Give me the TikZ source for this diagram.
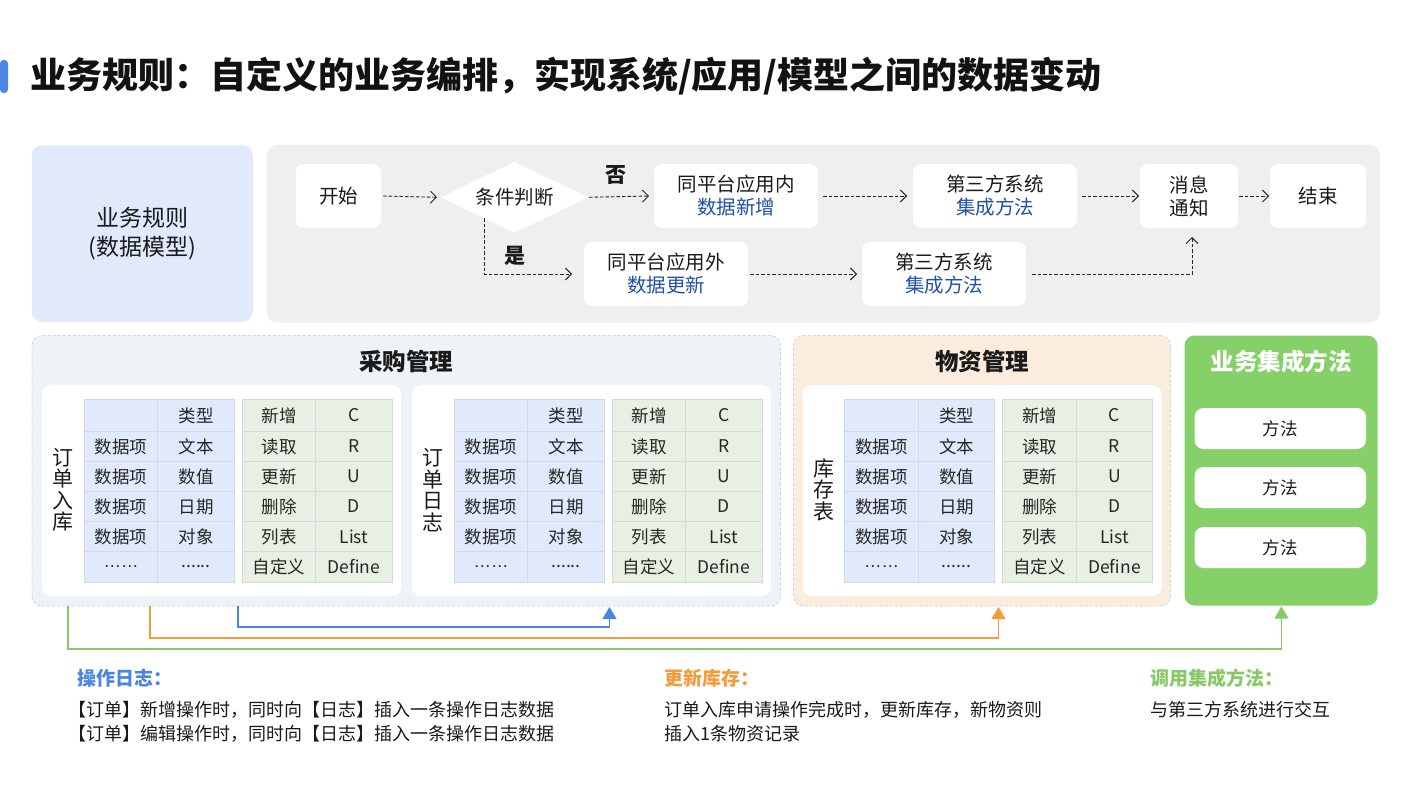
\documentclass[tikz,border=0pt]{standalone}
\usepackage{fontspec}
\setmainfont{Noto Sans CJK SC}
\newfontfamily\latf{Liberation Sans}
\usetikzlibrary{shapes.geometric,arrows.meta,calc}
\definecolor{titlebar}{HTML}{4D87E8}
\definecolor{lblue}{HTML}{E1EAFD}
\definecolor{panelgray}{HTML}{EFEFEF}
\definecolor{purfill}{HTML}{EDF3F7}
\definecolor{matfill}{HTML}{FBEDDE}
\definecolor{dashb}{HTML}{D0D5DA}
\definecolor{gpanelc}{HTML}{86D06A}
\definecolor{cellb}{HTML}{D6D9DC}
\definecolor{bcellf}{HTML}{E1EAFC}
\definecolor{gcellf}{HTML}{E7F0E2}
\definecolor{dblue}{HTML}{1F51A9}
\definecolor{cblue}{HTML}{4A84E4}
\definecolor{corange}{HTML}{F29D3C}
\definecolor{cgreen}{HTML}{86C966}
\definecolor{txt}{HTML}{1A1A1A}
\newcommand\dotsl{{\latf ……}}
\newcommand\dotsr{......}
\newcommand\crudtables[3]{% #1 x offset, #2 name prefix, #3 vertical label
  \node[whitebox, minimum width=359pt, minimum height=211pt] (#2box) at (#1+221.5,490.5) {};
  \node[vlabel] (#2lbl) at (#1+63,490) {#3};
  \foreach \k/\yc/\hh/\ta/\tb/\tc/\td in {
    1/415.5/32/{}/类型/新增/C,
    2/446.5/30/数据项/文本/读取/R,
    3/476.5/30/数据项/数值/更新/U,
    4/506.5/30/数据项/日期/删除/D,
    5/536.5/30/数据项/对象/列表/List,
    6/566.75/30.5/\dotsl/\dotsr/自定义/Define}{
    \node[bcell, minimum width=73.4pt, minimum height=\hh pt] (#2a\k) at (#1+121,\yc) {\ta};
    \node[bcell, minimum width=76.6pt, minimum height=\hh pt] (#2b\k) at (#1+196,\yc) {\tb};
    \node[gcell, minimum width=73.4pt, minimum height=\hh pt] (#2c\k) at (#1+279,\yc) {\tc};
    \node[gcell, minimum width=76.6pt, minimum height=\hh pt] (#2d\k) at (#1+354,\yc) {\td};
  }
}
\begin{document}
\begin{tikzpicture}[x=1pt,y=-1pt,
  every node/.style={inner sep=0pt, outer sep=0pt, text=txt},
  flowbox/.style={fill=white, rounded corners=8pt, align=center, minimum height=64pt, font=\fontsize{19.5}{23}\selectfont},
  dflow/.style={dash pattern=on 3.5pt off 2pt, line width=0.9pt, draw=black!85, -{Straight Barb[length=6pt,width=12pt]}},
  panel/.style={rounded corners=10pt},
  dpanel/.style={rounded corners=10pt, draw=dashb, line width=0.8pt, dash pattern=on 3pt off 2pt},
  ptitle/.style={font=\fontsize{23.5}{26}\selectfont\bfseries},
  whitebox/.style={fill=white, rounded corners=9pt},
  vlabel/.style={align=center, font=\fontsize{21}{21.5}\selectfont},
  bcell/.style={draw=cellb, fill=bcellf, line width=0.8pt, font=\fontsize{17.5}{20}\selectfont, text=black!85},
  gcell/.style={draw=cellb, fill=gcellf, line width=0.8pt, font=\fontsize{17.5}{20}\selectfont, text=black!85},
  mbox/.style={fill=white, rounded corners=9pt, minimum width=171.5pt, minimum height=41pt, font=\fontsize{17.5}{20}\selectfont},
  conn/.style={line width=1.1pt, -{Triangle[length=12pt,width=14pt]}},
  bhead/.style={anchor=west, font=\fontsize{19}{22}\selectfont\bfseries},
  btext/.style={anchor=north west, align=left, font=\fontsize{18}{24}\selectfont}
]
\useasboundingbox (0,0) rectangle (1420,800);
\fill[white] (0,0) rectangle (1420,800);

% title
\node[fill=titlebar, rounded corners=3.5pt, minimum width=8pt, minimum height=33pt] (tbar) at (4,76.5) {};
\node[anchor=west, font=\fontsize{36}{40}\selectfont\bfseries, text=black!93] (title) at (30,76) {业务规则：自定义的业务编排，实现系统/应用/模型之间的数据变动};

% top row
\node[panel, fill=lblue, minimum width=221pt, minimum height=176.5pt, align=center, font=\fontsize{23}{29}\selectfont] (rule) at (142.25,233.5) {业务规则\\(数据模型)};
\node[panel, fill=panelgray, minimum width=1113pt, minimum height=177.7pt] (flow) at (823.5,233.8) {};

\node[flowbox, minimum width=85pt] (start) at (338.5,196) {开始};
\node[diamond, fill=white, minimum width=147pt, minimum height=71pt, aspect=2.07, font=\fontsize{19.5}{23}\selectfont] (diam) at (514.5,197.3) {条件判断};
\node[flowbox, minimum width=164pt] (inner) at (736,196) {同平台应用内\\\textcolor{dblue}{数据新增}};
\node[flowbox, minimum width=164pt] (t3a) at (995,196) {第三方系统\\\textcolor{dblue}{集成方法}};
\node[flowbox, minimum width=98pt] (msg) at (1189,196) {消息\\通知};
\node[flowbox, minimum width=96pt] (endn) at (1318,196) {结束};
\node[flowbox, minimum width=164pt] (outer) at (666,274) {同平台应用外\\\textcolor{dblue}{数据更新}};
\node[flowbox, minimum width=164pt] (t3b) at (944,274) {第三方系统\\\textcolor{dblue}{集成方法}};
\node[font=\fontsize{21}{23}\selectfont\bfseries] (no) at (615.5,174.5) {否};
\node[font=\fontsize{21}{23}\selectfont\bfseries] (yes) at (515,255.5) {是};

\draw[dflow] ([xshift=2pt]start.east) -- ([xshift=-4pt]diam.west);
\draw[dflow] ([xshift=1pt]diam.east) -- ([xshift=-5pt]inner.west);
\draw[dflow] ([xshift=5pt]inner.east) -- ([xshift=-6pt]t3a.west);
\draw[dflow] ([xshift=5pt]t3a.east) -- ([xshift=-1pt]msg.west);
\draw[dflow] ([xshift=1pt]msg.east) -- ([xshift=-1pt]endn.west);
\draw[dflow] ($(diam.west)!0.585!(diam.south)$) |- ([xshift=-12pt]outer.west);
\draw[dflow] ([xshift=2pt]outer.east) -- ([xshift=-5pt]t3b.west);
\draw[dflow] ([xshift=6pt]t3b.east) -| ([xshift=3pt,yshift=-9pt]msg.south);

% middle row panels
\node[dpanel, fill=purfill, minimum width=748.5pt, minimum height=270.5pt] (purch) at (406.25,470.75) {};
\node[dpanel, fill=matfill, minimum width=377pt, minimum height=270.5pt] (mat) at (982,470.75) {};
\node[panel, fill=gpanelc, minimum width=193pt, minimum height=270pt] (gpanel) at (1281,470.5) {};
\node[ptitle] (purchT) at (406,361.5) {采购管理};
\node[ptitle] (matT) at (982,361.5) {物资管理};
\node[ptitle, text=white] (gpanelT) at (1281,361.5) {业务集成方法};

\crudtables{0}{oin}{订\\单\\入\\库}
\crudtables{370}{olog}{订\\单\\日\\志}
\crudtables{760.5}{stock}{库\\存\\表}

\node[mbox] (m1) at (1280.25,428.5) {方法};
\node[mbox] (m2) at (1280.25,487.5) {方法};
\node[mbox] (m3) at (1280.25,547.5) {方法};

% bottom connectors
\coordinate (bsrc) at (238,606);
\coordinate (osrc) at (150,606);
\coordinate (gsrc) at (68,606);
\coordinate (btgt) at (609.5,607);
\coordinate (otgt) at (998.5,607);
\coordinate (gtgt) at (1281.5,606.5);
\draw[conn, draw=cgreen] (gsrc) -- ++(0,43) -| (gtgt);
\draw[conn, draw=corange] (osrc) -- ++(0,32) -| (otgt);
\draw[conn, draw=cblue] (bsrc) -- ++(0,21) -| (btgt);

% bottom texts
\node[bhead, text=cblue] (h1) at (77,678) {操作日志：};
\node[btext] (t1) at (68,701) {【订单】新增操作时，同时向【日志】插入一条操作日志数据\\【订单】编辑操作时，同时向【日志】插入一条操作日志数据};
\node[bhead, text=corange] (h2) at (664,678) {更新库存：};
\node[btext] (t2) at (664,701) {订单入库申请操作完成时，更新库存，新物资则\\插入1条物资记录};
\node[bhead, text=cgreen] (h3) at (1150,678) {调用集成方法：};
\node[btext] (t3) at (1150,701) {与第三方系统进行交互};
\end{tikzpicture}
\end{document}
